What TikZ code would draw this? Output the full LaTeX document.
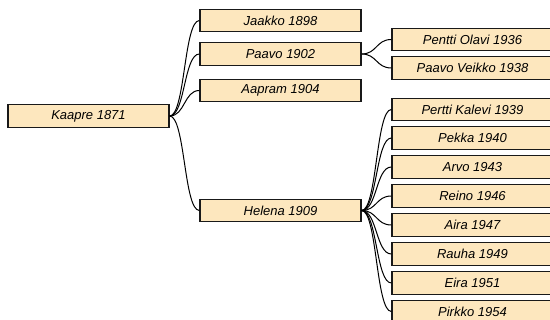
\documentclass[tikz,border=0pt]{standalone}
\usepackage{fontspec}
\setmainfont{Liberation Sans}
\definecolor{boxfill}{HTML}{FDE7BE}
\begin{document}
\begin{tikzpicture}[x=1pt,y=-1pt,
  person/.style={draw=black!90,line width=1.2pt,fill=boxfill,minimum width=161pt,minimum height=22.5pt,inner sep=0pt,font=\fontsize{13}{15}\selectfont\itshape},
  link/.style={draw=black,line width=1pt}]
\useasboundingbox (0,0) rectangle (550,320);
\node[person] (k) at (88.5,116) {Kaapre 1871};
\node[person] (ja) at (280.5,20.5) {Jaakko 1898};
\node[person] (pa) at (280.5,54) {Paavo 1902};
\node[person] (aa) at (280.5,90.5) {Aapram 1904};
\node[person] (he) at (280.5,210.5) {Helena 1909};
\node[person] (po) at (472.5,39.5) {Pentti Olavi 1936};
\node[person] (pv) at (472.5,68) {Paavo Veikko 1938};
\node[person] (pk) at (472.5,109.5) {Pertti Kalevi 1939};
\node[person] (pe) at (472.5,138) {Pekka 1940};
\node[person] (ar) at (472.5,167) {Arvo 1943};
\node[person] (re) at (472.5,196) {Reino 1946};
\node[person] (ai) at (472.5,225) {Aira 1947};
\node[person] (ra) at (472.5,254) {Rauha 1949};
\node[person] (ei) at (472.5,283) {Eira 1951};
\node[person] (pi) at (472.5,311.5) {Pirkko 1954};
\foreach \c in {ja,pa,aa,he}
  \draw[link] (k.east) .. controls +(15.5,0) and +(-15.5,0) .. (\c.west);
\foreach \c in {po,pv}
  \draw[link] (pa.east) .. controls +(15.5,0) and +(-15.5,0) .. (\c.west);
\foreach \c in {pk,pe,ar,re,ai,ra,ei,pi}
  \draw[link] (he.east) .. controls +(15.5,0) and +(-15.5,0) .. (\c.west);
\end{tikzpicture}
\end{document}
